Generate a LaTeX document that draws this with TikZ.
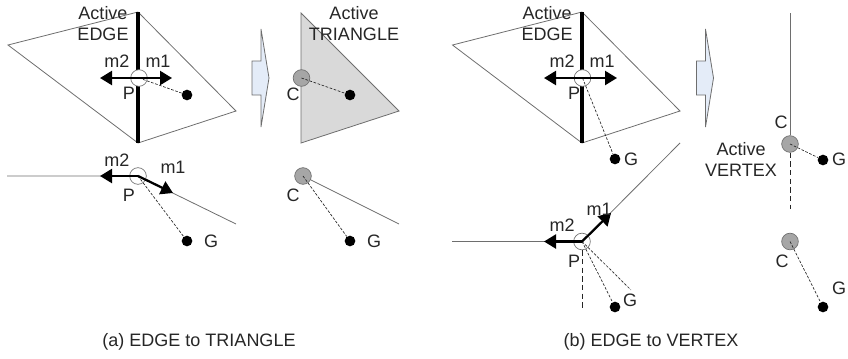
\documentclass[tikz,border=0pt]{standalone}
\usepackage{fontspec}
\setmainfont{Liberation Sans}
\usetikzlibrary{arrows.meta}
\definecolor{colorTexto}{HTML}{262626}
\definecolor{colorLinea}{HTML}{6E6E6E}
\definecolor{colorFlecha}{HTML}{E4ECF8}
\definecolor{colorTriang}{HTML}{D9D9D9}
\definecolor{colorC}{HTML}{A6A6A6}

\begin{document}
\begin{tikzpicture}[x=0.75pt, y=-0.75pt, font=\fontsize{13.5}{15.75}\selectfont,
        lbl/.style={text=colorTexto, inner sep=0pt, align=center},
        thin line/.style={draw=colorLinea, line width=0.6pt},
        active/.style={draw=black, line width=2.6pt},
        guide/.style={draw=colorTexto, dashed, dash pattern=on 2pt off 1.2pt, line width=0.5pt},
        guidel/.style={draw=colorTexto, dash pattern=on 4pt off 2.5pt, line width=0.6pt},
        mv/.style={draw=black, line width=1.7pt, -{Triangle[length=9pt, width=10.5pt]}},
        ptP/.style={circle, draw=colorLinea, fill=white, line width=0.5pt, minimum size=12.5pt, inner sep=0pt},
        ptC/.style={circle, draw=colorLinea, fill=colorC, line width=0.5pt, minimum size=12.5pt, inner sep=0pt},
        goal/.style={circle, fill=black, minimum size=8pt, inner sep=0pt},
        bigarrow/.style={draw=colorLinea, fill=colorFlecha, line width=0.6pt}]
    \useasboundingbox (0,0) rectangle (848,358);

    % (a) EDGE to TRIANGLE
    \coordinate (a1) at (8,45);
    \coordinate (a2) at (138,12);
    \coordinate (a3) at (236,111);
    \coordinate (a4) at (138,143);
    \draw[thin line] (a2) -- (a1) -- (a4) -- (a3) -- (a2);
    \draw[active] (a2) -- (a4);
    \node[ptP] (aP) at (139,78) {};
    \node[goal] (aG) at (187,95) {};
    \coordinate (am1) at (172,78);
    \coordinate (am2) at (100,78);
    \draw[guide] (aP.center) -- (aG);
    \draw[mv] (aP.center) -- (am1);
    \draw[mv] (aP.center) -- (am2);
    \node[lbl] (aAct) at (103,23.5) {Active\\EDGE};
    \node[lbl] at (117,61) {m2};
    \node[lbl] at (158,61) {m1};
    \node[lbl] at (129,93) {P};

    \filldraw[bigarrow] (252,61) -- (261,61) -- (261,29) -- (269,78) -- (261,127) -- (261,95) -- (252,95) -- cycle;

    \coordinate (t1) at (301,13);
    \coordinate (t2) at (399,111);
    \coordinate (t3) at (301,143);
    \filldraw[thin line, fill=colorTriang] (t1) -- (t2) -- (t3) -- cycle;
    \node[ptC] (tC) at (301.5,78) {};
    \node[goal] (tG) at (350,95) {};
    \draw[guide] (tC.center) -- (tG);
    \node[lbl] at (354,24) {Active\\TRIANGLE};
    \node[lbl] at (293,94) {C};

    \coordinate (b1) at (7,176);
    \coordinate (b3) at (236,224);
    \node[ptP] (bP) at (138,176) {};
    \coordinate (bm1) at (173,193);
    \coordinate (bm2) at (100,176);
    \node[goal] (bG) at (187,241) {};
    \draw[thin line] (b1) -- (bP.center) -- (b3);
    \draw[guide] (bP.center) -- (bG);
    \draw[mv] (bP.center) -- (bm1);
    \draw[mv] (bP.center) -- (bm2);
    \node[lbl] at (117,160) {m2};
    \node[lbl] at (173,167) {m1};
    \node[lbl] at (129,195) {P};
    \node[lbl] at (211,241) {G};

    \coordinate (c3) at (399,224);
    \node[ptC] (cC) at (303,176) {};
    \node[goal] (cG) at (350,241) {};
    \draw[thin line] (cC) -- (c3);
    \draw[guide] (cC.center) -- (cG);
    \node[lbl] at (293,195) {C};
    \node[lbl] at (374,241) {G};

    \node[lbl] (capa) at (199,342) {(a) EDGE to TRIANGLE};

    % (b) EDGE to VERTEX
    \coordinate (d1) at (452.5,45);
    \coordinate (d2) at (582,12);
    \coordinate (d3) at (680,111);
    \coordinate (d4) at (582,143);
    \draw[thin line] (d2) -- (d1) -- (d4) -- (d3) -- (d2);
    \draw[active] (d2) -- (d4);
    \node[ptP] (dP) at (582.5,78) {};
    \node[goal] (dG) at (615,159) {};
    \coordinate (dm1) at (617,78);
    \coordinate (dm2) at (544,78);
    \draw[guide] (dP.center) -- (dG);
    \draw[mv] (dP.center) -- (dm1);
    \draw[mv] (dP.center) -- (dm2);
    \node[lbl] at (547,23.5) {Active\\EDGE};
    \node[lbl] at (562,61) {m2};
    \node[lbl] at (602,61) {m1};
    \node[lbl] at (574,93) {P};
    \node[lbl] at (631,159) {G};

    \filldraw[bigarrow] (696.5,61) -- (705.5,61) -- (705.5,29) -- (713.5,78) -- (705.5,127) -- (705.5,95) -- (696.5,95) -- cycle;

    \coordinate (v1) at (790,13);
    \coordinate (v2) at (790,209);
    \node[ptC] (vC) at (790,144) {};
    \node[goal] (vG) at (823,160) {};
    \draw[thin line] (v1) -- (vC);
    \draw[guidel] (vC) -- (v2);
    \draw[guide] (vC.center) -- (vG);
    \node[lbl] at (781,122) {C};
    \node[lbl] at (839,159) {G};
    \node[lbl] at (741,159) {Active\\VERTEX};

    \coordinate (e1) at (452,241.5);
    \coordinate (e3) at (680,143);
    \coordinate (e4) at (582,310);
    \coordinate (e5) at (631,290);
    \node[ptP] (eP) at (582,241.5) {};
    \coordinate (em1) at (611,213);
    \coordinate (em2) at (544,241.5);
    \node[goal] (eG) at (615,307) {};
    \draw[thin line] (e1) -- (eP.center) -- (e3);
    \draw[guidel] (eP) -- (e4);
    \draw[guide] (eP.center) -- (eG);
    \draw[guide] (eP.center) -- (e5);
    \draw[mv] (eP.center) -- (em1);
    \draw[mv] (eP.center) -- (em2);
    \node[lbl] at (599,209) {m1};
    \node[lbl] at (562,225) {m2};
    \node[lbl] at (574,261) {P};
    \node[lbl] at (630,300) {G};

    \node[ptC] (fC) at (790,241.5) {};
    \node[goal] (fG) at (823,307) {};
    \draw[guide] (fC.center) -- (fG);
    \node[lbl] at (782,261) {C};
    \node[lbl] at (839,288) {G};

    \node[lbl] (capb) at (651,342) {(b) EDGE to VERTEX};
\end{tikzpicture}
\end{document}
